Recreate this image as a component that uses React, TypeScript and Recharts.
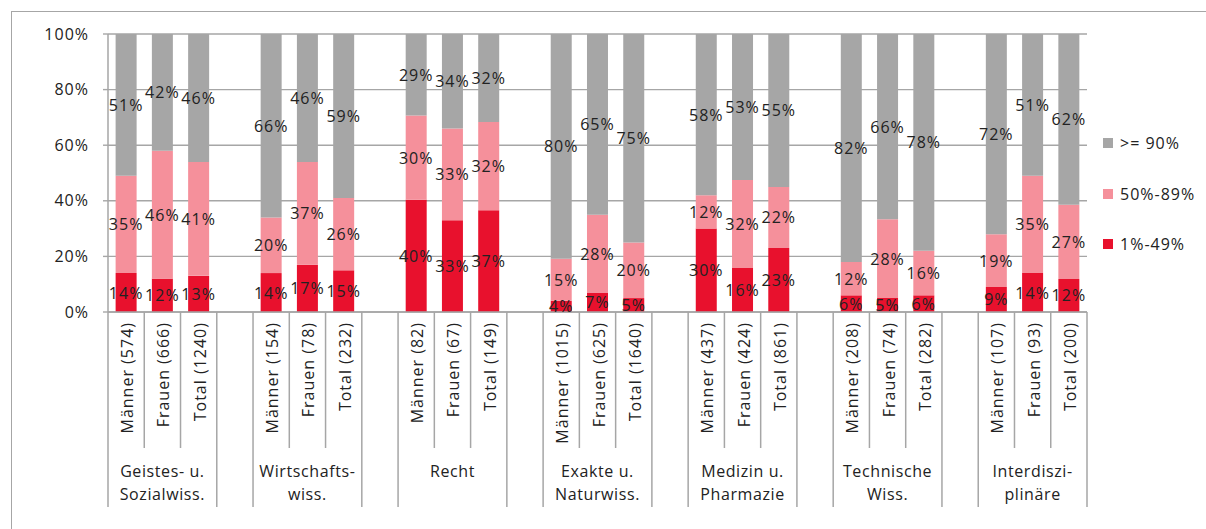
import React from 'react';
import { BarChart, Bar, XAxis, YAxis, CartesianGrid, LabelList, Legend } from 'recharts';

const groupNames: string[][] = [
  ['Geistes- u.', 'Sozialwiss.'],
  ['Wirtschafts-', 'wiss.'],
  ['Recht'],
  ['Exakte u.', 'Naturwiss.'],
  ['Medizin u.', 'Pharmazie'],
  ['Technische', 'Wiss.'],
  ['Interdiszi-', 'plinäre'],
];

const barLabels: string[] = [
  'Männer (574)', 'Frauen (666)', 'Total (1240)',
  'Männer (154)', 'Frauen (78)', 'Total (232)',
  'Männer (82)', 'Frauen (67)', 'Total (149)',
  'Männer (1015)', 'Frauen (625)', 'Total (1640)',
  'Männer (437)', 'Frauen (424)', 'Total (861)',
  'Männer (208)', 'Frauen (74)', 'Total (282)',
  'Männer (107)', 'Frauen (93)', 'Total (200)',
];

const low: number[] = [14, 12, 13, 14, 17, 15, 40, 33, 37, 4, 7, 5, 30, 16, 23, 6, 5, 6, 9, 14, 12];
const mid: number[] = [35, 46, 41, 20, 37, 26, 30, 33, 32, 15, 28, 20, 12, 32, 22, 12, 28, 16, 19, 35, 27];
const high: number[] = [51, 42, 46, 66, 46, 59, 29, 34, 32, 80, 65, 75, 58, 53, 55, 82, 66, 78, 72, 51, 62];

const seriesNames: string[] = ['1%-49%', '50%-89%', '>= 90%'];
const seriesKeys: string[] = ['low', 'mid', 'high'];
const colors: string[] = ['#e8112d', '#f5909b', '#a6a6a6'];
const yTicks: number[] = [0, 0.2, 0.4, 0.6, 0.8, 1];

const W = 1206;
const H = 529;
const M_TOP = 34;
const M_RIGHT = 119;
const Y_W = 108;
const X_H = 217;
const PLOT_W = W - M_RIGHT - Y_W;
const PLOT_BOTTOM = H - X_H;
const FONT = "'Open Sans', sans-serif";
const TXT = '#222222';
const LINE = '#a6a6a6';

type Row = {
  key: string;
  label: string;
  slot: number;
  group: number;
  pos: number;
  low: number | null;
  mid: number | null;
  high: number | null;
};

const data: Row[] = [];
{
  let slot = 0;
  groupNames.forEach((_, g) => {
    for (let p = 0; p < 3; p++) {
      const i = g * 3 + p;
      data.push({ key: 'b' + i, label: barLabels[i], slot, group: g, pos: p, low: low[i], mid: mid[i], high: high[i] });
      slot++;
    }
    if (g < groupNames.length - 1) {
      data.push({ key: 'gap' + g, label: '', slot, group: g, pos: 3, low: null, mid: null, high: null });
      slot++;
    }
  });
}
const rowByKey: Record<string, Row> = {};
data.forEach((r) => (rowByKey[r.key] = r));
const BAND = PLOT_W / data.length;

const XTick = (props: any) => {
  const { x, payload } = props;
  const row = rowByKey[payload.value];
  if (!row) return null;
  const left = x - BAND / 2;
  const longLeft = row.pos === 0 || row.pos === 3;
  const out: React.ReactNode[] = [];
  out.push(
    <line key="l" x1={left} x2={left} y1={PLOT_BOTTOM} y2={longLeft ? 507 : 448} stroke={LINE} strokeWidth={1.5} />
  );
  if (row.slot === data.length - 1) {
    out.push(<line key="r" x1={left + BAND} x2={left + BAND} y1={PLOT_BOTTOM} y2={507} stroke={LINE} strokeWidth={1.5} />);
  }
  if (row.label) {
    const ty = PLOT_BOTTOM + 10;
    out.push(
      <text
        key="t"
        x={x + 1}
        y={ty}
        transform={`rotate(-90, ${x + 1}, ${ty})`}
        textAnchor="end"
        dominantBaseline="central"
        fontFamily={FONT}
        fontSize={16}
        letterSpacing={1}
        fill={TXT}
      >
        {row.label}
      </text>
    );
  }
  if (row.pos === 1) {
    const lines = groupNames[row.group];
    const ys = lines.length === 1 ? [471] : [471, 494];
    lines.forEach((ln, k) => {
      out.push(
        <text
          key={'g' + k}
          x={x}
          y={ys[k]}
          textAnchor="middle"
          dominantBaseline="central"
          fontFamily={FONT}
          fontSize={16}
          letterSpacing={0.6}
          fill={TXT}
        >
          {ln}
        </text>
      );
    });
  }
  return <g>{out}</g>;
};

const renderSegLabel = (props: any) => {
  const { value } = props;
  if (value === null || value === undefined) return null;
  const vb = props.viewBox && typeof props.viewBox.x === 'number' ? props.viewBox : props;
  if (typeof vb.x !== 'number' || !vb.height) return null;
  const cx = vb.x + vb.width / 2;
  const cy = vb.y + vb.height / 2;
  return (
    <text
      x={cx}
      y={cy}
      textAnchor="middle"
      dominantBaseline="central"
      fontFamily={FONT}
      fontSize={16}
      letterSpacing={1}
      fill={TXT}
    >
      {value}%
    </text>
  );
};

const legendOrder = [2, 1, 0];
const renderLegend = () => (
  <div style={{ position: 'relative', width: 103, height: 120, fontFamily: FONT, fontSize: 16, color: TXT }}>
    {legendOrder.map((idx, k) => (
      <div
        key={idx}
        style={{
          position: 'absolute',
          left: 0,
          top: k * 50.7,
          height: 20,
          display: 'flex',
          alignItems: 'center',
          whiteSpace: 'nowrap',
          letterSpacing: 1,
        }}
      >
        <span style={{ display: 'inline-block', width: 10, height: 10, background: colors[idx], marginRight: 7 }} />
        <span>{seriesNames[idx]}</span>
      </div>
    ))}
  </div>
);

export default function App() {
  return (
    <div style={{ position: 'absolute', left: 0, top: 0, width: W, height: H, overflow: 'hidden', background: '#fff' }}>
      <style>{'body{margin:0;overflow:hidden;background:#fff}'}</style>
      <div
        style={{
          position: 'absolute',
          left: 11,
          top: 11,
          width: W - 11,
          height: H - 11,
          borderLeft: `1.5px solid ${LINE}`,
          borderTop: `1.5px solid ${LINE}`,
          boxSizing: 'border-box',
        }}
      />
      <div style={{ position: 'absolute', left: 0, top: 0 }}>
        <BarChart
          width={W}
          height={H}
          data={data}
          stackOffset="expand"
          barCategoryGap="21%"
          margin={{ top: M_TOP, right: M_RIGHT, bottom: 0, left: 0 }}
          style={{ fontFamily: FONT }}
        >
          <CartesianGrid vertical={false} stroke={LINE} strokeWidth={1.4} />
          <YAxis
            width={Y_W}
            domain={[0, 1]}
            ticks={yTicks}
            tickFormatter={(v: number) => `${Math.round(v * 100)}%`}
            axisLine={{ stroke: LINE, strokeWidth: 1.5 }}
            tickLine={{ stroke: LINE, strokeWidth: 1.4 }}
            tickSize={5}
            tickMargin={14}
            tick={{ fill: TXT, fontSize: 16, fontFamily: FONT, letterSpacing: 1 }}
          />
          <XAxis
            dataKey="key"
            height={X_H}
            interval={0}
            tickLine={false}
            axisLine={{ stroke: LINE, strokeWidth: 1.5 }}
            tick={<XTick />}
          />
          <Legend
            layout="horizontal"
            align="center"
            verticalAlign="middle"
            content={renderLegend}
            wrapperStyle={{ position: 'absolute', left: 1103, top: 133, width: 103, height: 120 }}
          />
          {seriesKeys.map((k, i) => (
            <Bar key={k} dataKey={k} name={seriesNames[i]} stackId="a" fill={colors[i]} isAnimationActive={false}>
              <LabelList dataKey={k} content={renderSegLabel} />
            </Bar>
          ))}
        </BarChart>
      </div>
    </div>
  );
}
